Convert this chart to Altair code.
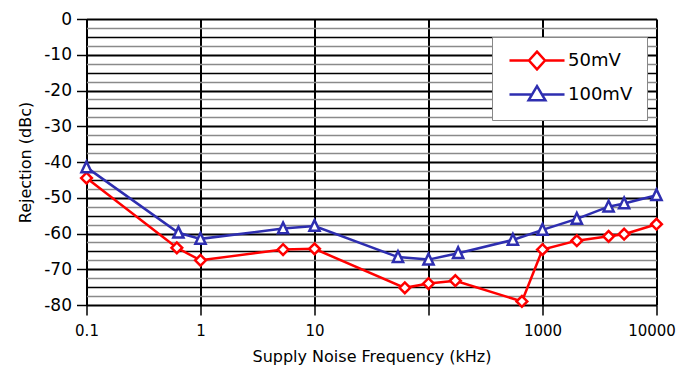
import altair as alt
import pandas as pd

# --- data ---
freq_50 = [0.1, 0.62, 1, 5.3, 10, 62, 100, 172, 660, 1000, 2000, 3800, 5200, 10000]
rej_50 = [-44.5, -64, -67.5, -64.5, -64.3, -75.2, -74, -73.2, -79, -64.5, -62, -60.8, -60.2, -57.4]
freq_100 = [0.1, 0.64, 1, 5.3, 10, 54, 100, 182, 550, 1000, 2000, 3800, 5200, 10000]
rej_100 = [-41.5, -59.8, -61.5, -58.6, -57.9, -66.6, -67.3, -65.5, -61.8, -59, -55.9, -52.5, -51.6, -49.3]
series_names = ["50mV", "100mV"]
series_colors = ["#ff0000", "#2e2eb0"]
x_ticks = [0.1, 1, 10, 100, 1000, 10000]
y_grid = [0, -2.5, -5, -7.5, -10, -12.5, -15, -17.5, -20, -22.5, -25, -27.5, -30, -32.5,
          -35, -37.5, -40, -42.5, -45, -47.5, -50, -52.5, -55, -57.5, -60, -62.5, -65,
          -67.5, -70, -72.5, -75, -77.5, -80]

df = pd.concat([
    pd.DataFrame({"freq": freq_50, "rej": rej_50, "series": series_names[0]}),
    pd.DataFrame({"freq": freq_100, "rej": rej_100, "series": series_names[1]}),
])

FONT = "DejaVu Sans"

legend_diamond = "M-3.44,0L-1,0M1,0L3.44,0M0,-1.1L1,0L0,1.1L-1,0Z"
legend_tri = "M-3.44,0L-0.62,0M0.62,0L3.44,0M0,-1.05L1.05,0.72L-1.05,0.72Z"
plot_tri = "M0,-1.1L0.95,0.9L-0.95,0.9Z"

x_enc = alt.X(
    "freq:Q",
    scale=alt.Scale(type="log", domain=[0.1, 10000]),
    axis=alt.Axis(
        values=x_ticks,
        format="~g",
        labelExpr="datum.value == 100 ? '' : datum.label",
        labelFlush=False,
        labelOffset={"condition": {"test": "datum.value == 10000", "value": -5}, "value": 0},
        title="Supply Noise Frequency (kHz)",
        grid=True, gridColor="black", gridWidth=2,
        domain=False, tickColor="black", tickWidth=1.5, tickSize=10,
        labelFont=FONT, labelFontSize=15, labelColor="black", labelPadding=8,
        titleFont=FONT, titleFontSize=16, titleFontWeight="normal", titleColor="black",
        titleBaseline="alphabetic", titleY=56.5,
    ),
)
y_enc = alt.Y(
    "rej:Q",
    scale=alt.Scale(domain=[-80, 0], nice=False),
    axis=alt.Axis(
        values=y_grid,
        labelExpr="datum.value % 10 === 0 ? '' + datum.value : ''",
        labelFlush=False,
        title="Rejection (dBc)",
        grid=True,
        gridColor={"condition": {"test": "datum.value % 5 === 0", "value": "black"}, "value": "#8a8a8a"},
        gridWidth={"condition": {"test": "datum.value % 10 === 0", "value": 2}, "value": 1.5},
        tickOpacity={"condition": {"test": "datum.value % 10 === 0", "value": 1}, "value": 0},
        domain=False, tickColor="black", tickWidth=1.5, tickSize=10,
        labelFont=FONT, labelFontSize=17, labelColor="black", labelPadding=5,
        titleFont=FONT, titleFontSize=16, titleFontWeight="normal", titleColor="black",
        titlePadding=10,
    ),
)

lines = alt.Chart(df).mark_line(strokeWidth=2.5).encode(
    x=x_enc, y=y_enc,
    color=alt.Color("series:N", scale=alt.Scale(domain=series_names, range=series_colors), legend=None),
    detail="series:N",
)

points = alt.Chart(df).mark_point(filled=False, fill="white", fillOpacity=1, strokeWidth=2.5, size=115, opacity=1).encode(
    x=x_enc, y=y_enc,
    color=alt.Color("series:N", scale=alt.Scale(domain=series_names, range=series_colors), legend=None),
    shape=alt.Shape("series:N", scale=alt.Scale(domain=series_names, range=["diamond", plot_tri]), legend=None),
)

legend_props = dict(
    title=None, orient="none", legendX=405.5, legendY=18,
    fillColor="white", strokeColor="#888888", padding=14,
    labelFont=FONT, labelFontSize=18, labelColor="black",
    symbolSize=256, symbolStrokeWidth=2.5, symbolOffset=21.5, labelOffset=21.5,
    symbolFillColor="white", symbolOpacity=1, rowPadding=6,
)

legend_layer = alt.Chart(df).transform_filter("datum.freq < 0").mark_point(
    filled=False, fill="white", strokeWidth=2.5
).encode(
    x=x_enc, y=y_enc,
    color=alt.Color(
        "series:N", scale=alt.Scale(domain=series_names, range=series_colors),
        legend=alt.Legend(**legend_props),
    ),
    shape=alt.Shape(
        "series:N", scale=alt.Scale(domain=series_names, range=[legend_diamond, legend_tri]),
        legend=alt.Legend(**legend_props),
    ),
)

chart = alt.layer(lines, points, legend_layer).resolve_scale(
    color="independent", shape="independent"
).properties(
    width=570, height=286,
    autosize=alt.AutoSizeParams(type="none"),
    padding={"left": 78.5, "top": 11, "right": 22.5, "bottom": 61},
).configure_view(stroke="black", strokeWidth=2).configure(background="white")

chart.save("out.html", embed_options={"renderer": "svg", "actions": False})
